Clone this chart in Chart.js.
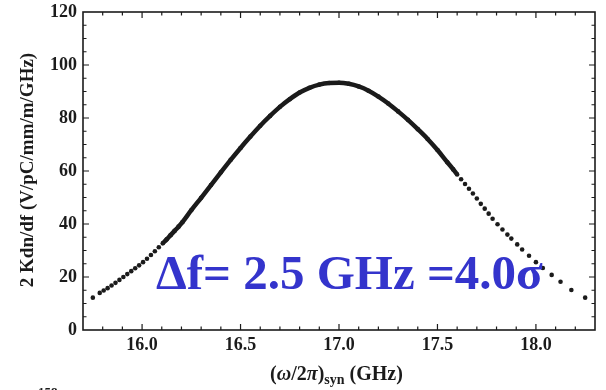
<!DOCTYPE html>
<html>
<head>
<meta charset="utf-8">
<script src="https://cdn.jsdelivr.net/npm/chart.js@4/dist/chart.umd.min.js"></script>
<style>
  html, body { margin: 0; padding: 0; background: #fff; }
  #wrap { width: 606px; height: 390px; position: relative; }
</style>
</head>
<body>
<div id="wrap"><canvas id="spectrum" width="606" height="390"></canvas></div>
<script>
/* wakefield spectrum — 2 Kdn/df vs synchronous frequency */

// frequency (GHz) and spectral density
const freqGHz = [
  15.750, 15.785, 15.805, 15.825, 15.845, 15.865, 15.885, 15.905, 15.925, 15.945,
  15.965, 15.985, 16.005, 16.025, 16.045, 16.065, 16.085, 16.105, 16.125, 16.145,
  16.165, 16.185, 16.205, 16.25, 16.30, 16.35, 16.40, 16.45, 16.50, 16.55,
  16.60, 16.65, 16.70, 16.75, 16.80, 16.85, 16.90, 16.95, 17.00, 17.05,
  17.10, 17.15, 17.20, 17.25, 17.30, 17.35, 17.40, 17.45, 17.50, 17.55,
  17.58, 17.60, 17.62, 17.64, 17.66, 17.68, 17.70, 17.72, 17.74, 17.76,
  17.78, 17.805, 17.83, 17.855, 17.875, 17.905, 17.93, 17.965, 18.00, 18.035,
  18.08, 18.125, 18.18, 18.25
];
const kdn = [
  12.2, 14.0, 14.9, 15.8, 16.8, 17.8, 18.9, 20.0, 21.1, 22.2,
  23.3, 24.4, 25.6, 26.9, 28.3, 29.7, 31.2, 32.7, 34.2, 35.8,
  37.4, 39.0, 40.7, 45.2, 49.9, 54.7, 59.5, 64.2, 68.7, 73.0,
  77.1, 80.8, 84.2, 87.1, 89.6, 91.4, 92.6, 93.2, 93.3, 92.9,
  91.9, 90.3, 88.1, 85.5, 82.5, 79.3, 75.8, 72.1, 67.9, 63.3,
  60.6, 58.7, 56.9, 55.1, 53.3, 51.5, 49.6, 47.6, 45.8, 43.9,
  42.0, 39.9, 37.9, 36.0, 34.5, 32.3, 30.4, 28.0, 25.6, 23.4,
  20.8, 18.2, 15.1, 12.2
];

const xTicks = [16.0, 16.5, 17.0, 17.5, 18.0];
const yTicks = [0, 20, 40, 60, 80, 100, 120];
const X_MIN = 15.7, X_MAX = 18.3, Y_MIN = 0, Y_MAX = 120;
const X_MINOR = 0.1, Y_MINOR = 5;

// dense part of the curve where the dots merge into a thick stroke
const CORE_FROM = 16.1, CORE_TO = 17.6;

const SERIF = "'Liberation Serif', 'Times New Roman', serif";
const INK = '#1b1b1b';

const framePlugin = {
  id: 'frame',
  afterDraw(chart) {
    const c = chart.ctx;
    const a = chart.chartArea;
    const xs = chart.scales.x, ys = chart.scales.y;
    c.save();
    c.strokeStyle = INK;

    // inward ticks on all four sides
    c.lineWidth = 1.2;
    c.beginPath();
    for (let v = X_MIN; v <= X_MAX + 1e-9; v += X_MINOR) {
      const r = Math.round(v * 10) / 10;
      if (r <= X_MIN || r >= X_MAX) continue;
      const major = xTicks.some(t => Math.abs(t - r) < 1e-6);
      const len = major ? 6 : 3.5;
      const px = xs.getPixelForValue(r);
      c.moveTo(px, a.bottom); c.lineTo(px, a.bottom - len);
      c.moveTo(px, a.top); c.lineTo(px, a.top + len);
    }
    for (let v = Y_MIN + Y_MINOR; v < Y_MAX; v += Y_MINOR) {
      const major = yTicks.includes(v);
      const len = major ? 6 : 3.5;
      const py = ys.getPixelForValue(v);
      c.moveTo(a.left, py); c.lineTo(a.left + len, py);
      c.moveTo(a.right, py); c.lineTo(a.right - len, py);
    }
    c.stroke();

    // frame
    c.lineWidth = 1.6;
    c.strokeRect(a.left, a.top, a.right - a.left, a.bottom - a.top);

    // y axis title
    c.fillStyle = INK;
    c.font = 'bold 19px ' + SERIF;
    c.textAlign = 'center';
    c.textBaseline = 'middle';
    c.translate(28, 170);
    c.rotate(-Math.PI / 2);
    c.fillText('2 Kdn/df (V/pC/mm/m/GHz)', 0, 0);
    c.setTransform(1, 0, 0, 1, 0, 0);

    // x axis title: (ω/2π)syn (GHz)
    const parts = [
      { t: '(', f: 'bold 20px ' + SERIF, dy: 0 },
      { t: 'ω', f: 'italic bold 20px ' + SERIF, dy: 0 },
      { t: '/2', f: 'bold 20px ' + SERIF, dy: 0 },
      { t: 'π', f: 'italic bold 20px ' + SERIF, dy: 0 },
      { t: ')', f: 'bold 20px ' + SERIF, dy: 0 },
      { t: 'syn', f: 'bold 14px ' + SERIF, dy: 4 },
      { t: ' (GHz)', f: 'bold 20px ' + SERIF, dy: 0 }
    ];
    let total = 0;
    parts.forEach(p => { c.font = p.f; p.w = c.measureText(p.t).width; total += p.w; });
    let x = 336.5 - total / 2;
    c.textAlign = 'left';
    c.textBaseline = 'alphabetic';
    parts.forEach(p => { c.font = p.f; c.fillText(p.t, x, 380 + p.dy); x += p.w; });

    // annotation
    c.fillStyle = '#3434cc';
    c.font = 'bold 49px ' + SERIF;
    c.fillText('Δf= 2.5 GHz =4.0σ', 156, 289);

    // clipped caption line peeking in at the bottom
    c.fillStyle = INK;
    c.font = 'bold 13px ' + SERIF;
    c.fillText('158', 38, 396);
    c.restore();
  }
};

const points = freqGHz.map((f, i) => ({ x: f, y: kdn[i] }));

new Chart(document.getElementById('spectrum'), {
  type: 'scatter',
  data: {
    datasets: [{
      data: points,
      showLine: true,
      borderColor: INK,
      borderWidth: 4.5,
      cubicInterpolationMode: 'monotone',
      pointRadius: 2.3,
      pointBorderWidth: 0,
      pointBackgroundColor: INK,
      segment: {
        borderColor: ctx => (ctx.p0.parsed.x >= CORE_FROM && ctx.p1.parsed.x <= CORE_TO) ? INK : 'rgba(0,0,0,0)'
      }
    }]
  },
  options: {
    responsive: false,
    animation: false,
    layout: { padding: { top: 12, right: 11, left: 0, bottom: 0 } },
    plugins: { legend: { display: false }, tooltip: { enabled: false } },
    scales: {
      x: {
        type: 'linear',
        min: X_MIN,
        max: X_MAX,
        afterBuildTicks: s => { s.ticks = xTicks.map(v => ({ value: v })); },
        afterFit: s => { s.height = 60; s.paddingLeft = 0; s.paddingRight = 0; },
        grid: { display: false, drawTicks: false },
        border: { display: false },
        ticks: {
          padding: 5,
          color: INK,
          maxRotation: 0,
          font: { family: SERIF, size: 18, weight: 'bold' },
          callback: v => v.toFixed(1)
        }
      },
      y: {
        min: Y_MIN,
        max: Y_MAX,
        afterBuildTicks: s => { s.ticks = yTicks.map(v => ({ value: v })); },
        afterFit: s => { s.width = 83; s.paddingTop = 0; s.paddingBottom = 0; },
        grid: { display: false, drawTicks: false },
        border: { display: false },
        ticks: {
          padding: 6,
          color: INK,
          font: { family: SERIF, size: 18, weight: 'bold' }
        }
      }
    }
  },
  plugins: [framePlugin]
});
</script>
</body>
</html>
